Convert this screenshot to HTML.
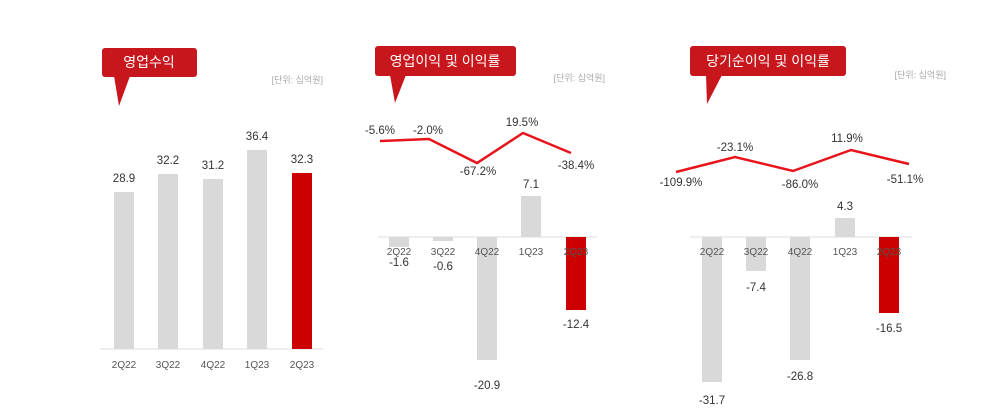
<!DOCTYPE html>
<html><head><meta charset="utf-8"><style>
html,body{margin:0;padding:0;background:#fff;}
svg{display:block;font-family:"Liberation Sans","Noto Sans CJK KR",sans-serif;}
.v{font-size:11.5px;fill:#333;text-anchor:middle;}
.x{font-size:10px;fill:#555;text-anchor:middle;}
.u{font-size:9px;fill:#aaa;text-anchor:end;}
.t{font-size:14px;fill:#fff;text-anchor:middle;}
</style></head><body>
<svg width="1000" height="413" viewBox="0 0 1000 413">
<!-- Chart 1 -->
<rect x="102" y="48" width="95" height="29" rx="3" fill="#c8161d"/>
<polygon points="114,76 130,76 119,106" fill="#c8161d"/>
<text class="t" x="149" y="67">영업수익</text>
<text class="u" x="323" y="83">[단위: 십억원]</text>
<line x1="100" y1="349" x2="323" y2="349" stroke="#ddd"/>
<rect x="114" y="192" width="20" height="157" fill="#d9d9d9"/>
<rect x="158" y="174" width="20" height="175" fill="#d9d9d9"/>
<rect x="203" y="179" width="20" height="170" fill="#d9d9d9"/>
<rect x="247" y="150" width="20" height="199" fill="#d9d9d9"/>
<rect x="292" y="173" width="20" height="176" fill="#cc0000"/>
<text class="v" x="124" y="182">28.9</text>
<text class="v" x="168" y="164">32.2</text>
<text class="v" x="213" y="169">31.2</text>
<text class="v" x="257" y="140">36.4</text>
<text class="v" x="302" y="163">32.3</text>
<text class="x" x="124" y="368">2Q22</text><text class="x" x="168" y="368">3Q22</text><text class="x" x="213" y="368">4Q22</text><text class="x" x="257" y="368">1Q23</text><text class="x" x="302" y="368">2Q23</text>
<!-- Chart 2 -->
<rect x="375" y="46" width="141" height="30" rx="3" fill="#c8161d"/>
<polygon points="390,75 406,75 395,103" fill="#c8161d"/>
<text class="t" x="445" y="66">영업이익 및 이익률</text>
<text class="u" x="605" y="81">[단위: 십억원]</text>
<line x1="378" y1="237" x2="597" y2="237" stroke="#ddd"/>
<rect x="389" y="237" width="20" height="10" fill="#d9d9d9"/>
<rect x="433" y="237" width="20" height="4" fill="#d9d9d9"/>
<rect x="477" y="237" width="20" height="123" fill="#d9d9d9"/>
<rect x="521" y="196" width="20" height="41" fill="#d9d9d9"/>
<rect x="566" y="237" width="20" height="73" fill="#cc0000"/>
<text class="x" x="399" y="255">2Q22</text><text class="x" x="443" y="255">3Q22</text><text class="x" x="487" y="255">4Q22</text><text class="x" x="531" y="255">1Q23</text><text class="x" x="576" y="255" fill="#b00">2Q23</text>
<text class="v" x="399" y="266">-1.6</text>
<text class="v" x="443" y="270">-0.6</text>
<text class="v" x="487" y="389">-20.9</text>
<text class="v" x="531" y="188">7.1</text>
<text class="v" x="576" y="328">-12.4</text>
<polyline points="380,141 429,139 477,163 523,133 571,153" fill="none" stroke="#e8141b" stroke-width="2.5"/>
<text class="v" x="380" y="134">-5.6%</text>
<text class="v" x="428" y="134">-2.0%</text>
<text class="v" x="478" y="175">-67.2%</text>
<text class="v" x="522" y="126">19.5%</text>
<text class="v" x="576" y="169">-38.4%</text>
<!-- Chart 3 -->
<rect x="690" y="46" width="156" height="30" rx="3" fill="#c8161d"/>
<polygon points="706,75 722,75 707,104" fill="#c8161d"/>
<text class="t" x="768" y="66">당기순이익 및 이익률</text>
<text class="u" x="946" y="78">[단위: 십억원]</text>
<line x1="690" y1="237" x2="912" y2="237" stroke="#ddd"/>
<rect x="702" y="237" width="20" height="145" fill="#d9d9d9"/>
<rect x="746" y="237" width="20" height="34" fill="#d9d9d9"/>
<rect x="790" y="237" width="20" height="123" fill="#d9d9d9"/>
<rect x="835" y="218" width="20" height="19" fill="#d9d9d9"/>
<rect x="879" y="237" width="20" height="76" fill="#cc0000"/>
<text class="x" x="712" y="255">2Q22</text><text class="x" x="756" y="255">3Q22</text><text class="x" x="800" y="255">4Q22</text><text class="x" x="845" y="255">1Q23</text><text class="x" x="889" y="255" fill="#b00">2Q23</text>
<text class="v" x="712" y="404">-31.7</text>
<text class="v" x="756" y="291">-7.4</text>
<text class="v" x="800" y="380">-26.8</text>
<text class="v" x="845" y="210">4.3</text>
<text class="v" x="889" y="332">-16.5</text>
<polyline points="676,172 735,157 793,171 851,150 909,164" fill="none" stroke="#e8141b" stroke-width="2.5"/>
<text class="v" x="681" y="186">-109.9%</text>
<text class="v" x="735" y="151">-23.1%</text>
<text class="v" x="800" y="188">-86.0%</text>
<text class="v" x="847" y="142">11.9%</text>
<text class="v" x="905" y="183">-51.1%</text>
</svg>
</body></html>
